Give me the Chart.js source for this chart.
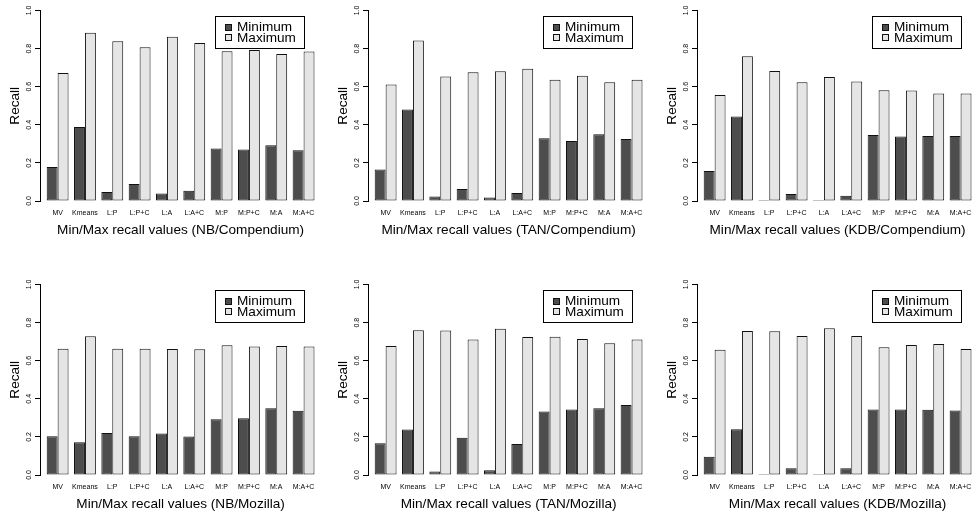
<!DOCTYPE html>
<html>
<head>
<meta charset="utf-8">
<script src="https://cdn.jsdelivr.net/npm/chart.js@4.4.1/dist/chart.umd.min.js"></script>
<style>
  html, body { margin: 0; padding: 0; background: #fff; width: 974px; height: 514px; overflow: hidden; }
  canvas { position: absolute; }
</style>
</head>
<body>
<canvas id="c1" width="328" height="240" style="left:0px;top:0px"></canvas>
<canvas id="c2" width="328" height="240" style="left:328px;top:0px"></canvas>
<canvas id="c3" width="328" height="240" style="left:657px;top:0px"></canvas>
<canvas id="c4" width="328" height="240" style="left:0px;top:274px"></canvas>
<canvas id="c5" width="328" height="240" style="left:328px;top:274px"></canvas>
<canvas id="c6" width="328" height="240" style="left:657px;top:274px"></canvas>
<script>
// ---- data ----
const categories = ['MV', 'Kmeans', 'L:P', 'L:P+C', 'L:A', 'L:A+C', 'M:P', 'M:P+C', 'M:A', 'M:A+C'];
const seriesNames = ['Minimum', 'Maximum'];
const yTicks = [0.0, 0.2, 0.4, 0.6, 0.8, 1.0];
const yTitle = 'Recall';

const nbCompendiumMin  = [0.179, 0.389, 0.047, 0.089, 0.039, 0.054, 0.275, 0.270, 0.292, 0.266];
const nbCompendiumMax  = [0.672, 0.883, 0.839, 0.807, 0.862, 0.830, 0.786, 0.792, 0.771, 0.785];
const tanCompendiumMin = [0.166, 0.480, 0.023, 0.063, 0.019, 0.042, 0.329, 0.315, 0.350, 0.326];
const tanCompendiumMax = [0.611, 0.842, 0.653, 0.676, 0.681, 0.694, 0.637, 0.657, 0.623, 0.637];
const kdbCompendiumMin = [0.158, 0.443, 0.004, 0.037, 0.004, 0.028, 0.347, 0.338, 0.341, 0.341];
const kdbCompendiumMax = [0.557, 0.760, 0.683, 0.623, 0.651, 0.627, 0.581, 0.580, 0.564, 0.564];
const nbMozillaMin     = [0.204, 0.172, 0.221, 0.204, 0.218, 0.202, 0.293, 0.298, 0.351, 0.337];
const nbMozillaMax     = [0.663, 0.728, 0.663, 0.663, 0.661, 0.660, 0.681, 0.674, 0.677, 0.674];
const tanMozillaMin    = [0.167, 0.239, 0.019, 0.195, 0.025, 0.163, 0.333, 0.344, 0.351, 0.368];
const tanMozillaMax    = [0.677, 0.760, 0.758, 0.711, 0.768, 0.725, 0.726, 0.714, 0.691, 0.711];
const kdbMozillaMin    = [0.096, 0.240, 0.000, 0.035, 0.000, 0.035, 0.344, 0.344, 0.342, 0.339];
const kdbMozillaMax    = [0.658, 0.756, 0.754, 0.730, 0.770, 0.730, 0.670, 0.682, 0.688, 0.661];

const panelTitles = [
  'Min/Max recall values (NB/Compendium)',
  'Min/Max recall values (TAN/Compendium)',
  'Min/Max recall values (KDB/Compendium)',
  'Min/Max recall values (NB/Mozilla)',
  'Min/Max recall values (TAN/Mozilla)',
  'Min/Max recall values (KDB/Mozilla)'
];

// ---- styles ----
const FONT = '"Liberation Sans", Arial, Helvetica, sans-serif';
const DARK = '#4d4d4d';
const LIGHT = '#e5e5e5';
const EDGE = '#111111';
const INK = '#000000';

const rAxisLabels = {
  id: 'rAxisLabels',
  afterDraw(chart) {
    const ctx = chart.ctx;
    const s = chart.scales.y;
    ctx.save();
    ctx.fillStyle = INK;
    ctx.font = '7px ' + FONT;
    ctx.textAlign = 'center';
    ctx.textBaseline = 'middle';
    yTicks.forEach(v => {
      const py = s.getPixelForValue(v);
      ctx.save();
      ctx.translate(s.right - 11, py);
      ctx.rotate(-Math.PI / 2);
      ctx.fillText(v.toFixed(1), 0, 0);
      ctx.restore();
    });
    ctx.restore();
  }
};

const rLegend = {
  id: 'rLegend',
  afterDraw(chart) {
    const ctx = chart.ctx;
    const ca = chart.chartArea;
    const x0 = Math.round(ca.left + 175), y0 = Math.round(ca.top + 5), w = 89, h = 32;
    ctx.save();
    ctx.fillStyle = '#fff';
    ctx.fillRect(x0, y0, w, h);
    ctx.strokeStyle = INK;
    ctx.lineWidth = 1;
    ctx.strokeRect(x0 + 0.5, y0 + 0.5, w, h);
    ctx.font = '13.6px ' + FONT;
    ctx.textBaseline = 'middle';
    ctx.textAlign = 'left';
    chart.data.datasets.forEach((ds, i) => {
      const cy = y0 + 11 + i * 10.7;
      ctx.fillStyle = ds.backgroundColor;
      ctx.fillRect(x0 + 10.5, Math.round(cy - 3.5) + 0.5, 6, 6);
      ctx.strokeStyle = EDGE;
      ctx.strokeRect(x0 + 10.5, Math.round(cy - 3.5) + 0.5, 6, 6);
      ctx.fillStyle = INK;
      ctx.fillText(ds.label, x0 + 22, cy + 0.5);
    });
    ctx.restore();
  }
};

function makeChart(id, title, minVals, maxVals) {
  const toPts = vals => vals.map((v, i) => ({ x: i, y: v }));
  return new Chart(document.getElementById(id), {
    type: 'bar',
    data: {
      datasets: [
        { label: seriesNames[0], data: toPts(minVals), backgroundColor: DARK, borderColor: EDGE,
          borderWidth: 1, borderSkipped: false, minBarLength: 1 },
        { label: seriesNames[1], data: toPts(maxVals), backgroundColor: LIGHT, borderColor: EDGE,
          borderWidth: 1, borderSkipped: false, minBarLength: 1 }
      ]
    },
    options: {
      responsive: false,
      animation: false,
      devicePixelRatio: 1,
      layout: { padding: { top: 10.5, right: 6.8, left: 0, bottom: 0 } },
      datasets: { bar: { categoryPercentage: 0.8, barPercentage: 1.0 } },
      plugins: { legend: { display: false }, tooltip: { enabled: false }, title: { display: false } },
      scales: {
        x: {
          type: 'linear',
          offset: false,
          min: -0.645,
          max: 9.645,
          afterBuildTicks: s => { s.ticks = categories.map((c, i) => ({ value: i })); },
          afterFit: s => { s.height = 39; },
          grid: { display: false, drawTicks: false, offset: false },
          border: { display: false },
          ticks: {
            autoSkip: false, maxRotation: 0, minRotation: 0, padding: 7.8,
            color: INK, font: { size: 7, family: FONT },
            callback: v => categories[v]
          },
          title: {
            display: true, text: title, color: INK,
            font: { size: 13.6, family: FONT },
            padding: { top: 0, bottom: 1.8 }
          }
        },
        y: {
          min: 0,
          max: 1,
          afterBuildTicks: s => { s.ticks = yTicks.map(v => ({ value: v })); },
          afterFit: s => { s.width = 40; },
          grid: { drawOnChartArea: false, drawTicks: true, tickLength: 5, color: INK, lineWidth: 1 },
          border: { display: true, color: INK, width: 1 },
          ticks: { display: false },
          title: {
            display: true, text: yTitle, color: INK,
            font: { size: 13.6, family: FONT },
            padding: { top: 6.8, bottom: 0 }
          }
        }
      }
    },
    plugins: [rAxisLabels, rLegend]
  });
}

makeChart('c1', panelTitles[0], nbCompendiumMin, nbCompendiumMax);
makeChart('c2', panelTitles[1], tanCompendiumMin, tanCompendiumMax);
makeChart('c3', panelTitles[2], kdbCompendiumMin, kdbCompendiumMax);
makeChart('c4', panelTitles[3], nbMozillaMin, nbMozillaMax);
makeChart('c5', panelTitles[4], tanMozillaMin, tanMozillaMax);
makeChart('c6', panelTitles[5], kdbMozillaMin, kdbMozillaMax);
</script>
</body>
</html>
